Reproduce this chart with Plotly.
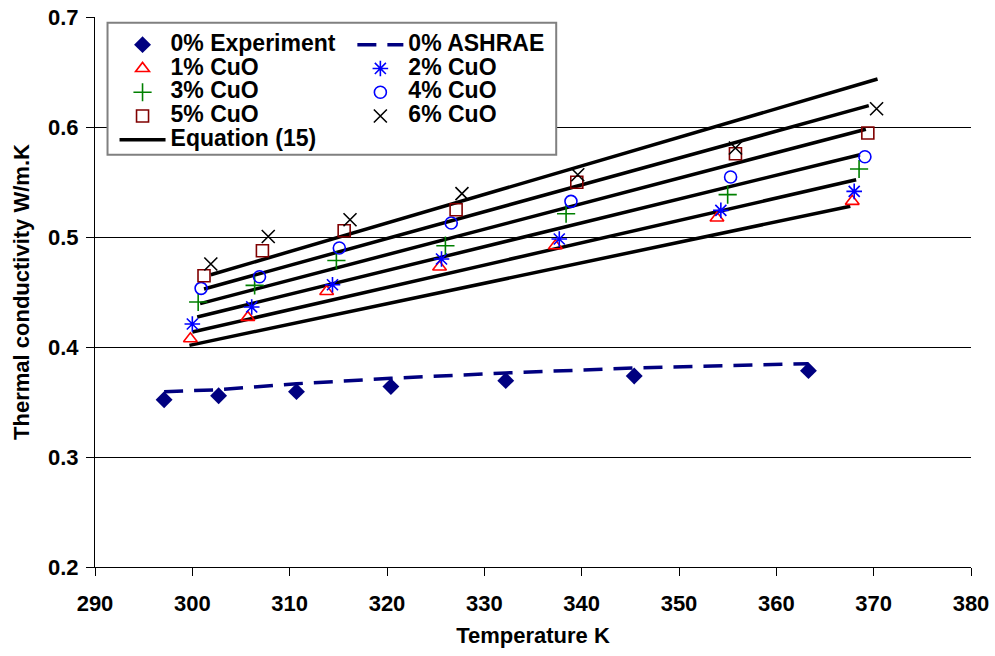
import plotly.graph_objects as go

# ---------------- data ----------------
T0 = [297.1, 302.7, 310.7, 320.4, 332.2, 345.4, 363.3]
k0_exp = [0.352, 0.3557, 0.3594, 0.364, 0.3694, 0.3737, 0.3785]
k0_ashrae = [0.3594, 0.3612, 0.3666, 0.3715, 0.3764, 0.3809, 0.3848]

T1 = [299.8, 305.7, 313.8, 325.4, 337.3, 353.9, 367.8]
k1 = [0.4075, 0.4269, 0.4505, 0.4727, 0.4921, 0.5173, 0.5324]
T2 = [300.0, 306.1, 314.4, 325.6, 337.7, 354.3, 368.0]
k2 = [0.4209, 0.4364, 0.4566, 0.480, 0.4982, 0.5242, 0.5415]
T3 = [300.6, 306.4, 314.8, 326.0, 338.4, 355.0, 368.5]
k3 = [0.4409, 0.456, 0.4787, 0.4921, 0.5212, 0.5385, 0.5618]
T4 = [300.9, 306.9, 315.1, 326.6, 338.9, 355.3, 369.1]
k4 = [0.4533, 0.4639, 0.490, 0.5127, 0.5324, 0.5545, 0.573]
T5 = [301.2, 307.2, 315.6, 327.1, 339.5, 355.8, 369.4]
k5 = [0.4648, 0.4875, 0.5057, 0.5248, 0.5498, 0.5757, 0.5945]
T6 = [301.9, 307.8, 316.2, 327.7, 339.6, 355.8, 370.3]
k6 = [0.4755, 0.5005, 0.5157, 0.5394, 0.5566, 0.5809, 0.6166]

# Equation (15) lines, one per concentration (start / end)
eq_T_start = [299.7, 300.0, 300.5, 300.8, 301.2, 301.9]
eq_T_end = [367.6, 368.2, 368.6, 369.2, 369.5, 370.4]
eq_k_start = [0.4015, 0.4136, 0.4273, 0.4394, 0.4527, 0.4657]
eq_k_end = [0.528, 0.552, 0.5748, 0.598, 0.6194, 0.6436]

x_ticks = [290, 300, 310, 320, 330, 340, 350, 360, 370, 380]
y_ticks = [0.2, 0.3, 0.4, 0.5, 0.6, 0.7]
y_grid = [0.3, 0.4, 0.5, 0.6]

FONT = "Liberation Sans, Arial, sans-serif"


def lbl(s):
    return '<span style="font-size:23px">' + s + '</span>'


fig = go.Figure()

# equation lines (one trace with gaps)
ex, ey = [], []
for a, b, c, d in zip(eq_T_start, eq_T_end, eq_k_start, eq_k_end):
    ex += [a, b, None]
    ey += [c, d, None]

fig.add_trace(go.Scatter(x=ex, y=ey, mode="lines", name=lbl("Equation (15)"),
                         line=dict(color="black", width=3.5), legend="legend",
                         legendrank=5))

fig.add_trace(go.Scatter(x=T0, y=k0_exp, mode="markers", name=lbl("0% Experiment"),
                         marker=dict(symbol="diamond", size=13, color="#000080"),
                         legend="legend", legendrank=1))
fig.add_trace(go.Scatter(x=T0, y=k0_ashrae, mode="lines", name=lbl("0% ASHRAE"),
                         line=dict(color="#000080", width=3.5, dash="19px,11px"),
                         legend="legend2", legendrank=1))

series = [
    ("1% CuO", T1, k1, "triangle-up-open", "#FF0000", "legend", 2, 12),
    ("2% CuO", T2, k2, "asterisk-open", "#0000FF", "legend2", 2, 13),
    ("3% CuO", T3, k3, "cross-thin-open", "#008000", "legend", 3, 13),
    ("4% CuO", T4, k4, "circle-open", "#0000FF", "legend2", 3, 12),
    ("5% CuO", T5, k5, "square-open", "#800000", "legend", 4, 12),
    ("6% CuO", T6, k6, "x-thin-open", "#000000", "legend2", 4, 13),
]
for name, xs, ys, sym, col, lg, rank, sz in series:
    fig.add_trace(go.Scatter(x=xs, y=ys, mode="markers", name=lbl(name),
                             marker=dict(symbol=sym, size=sz, color=col,
                                         line=dict(color=col, width=1.6)),
                             legend=lg, legendrank=rank))

# empty helper trace so the grid-only overlay axis is drawn
fig.add_trace(go.Scatter(x=[None], y=[None], yaxis="y2", showlegend=False,
                         hoverinfo="skip", mode="markers"))

# legend frame
fig.add_shape(type="rect", xref="paper", yref="paper",
              x0=0.0143, x1=0.5265, y0=0.7496, y1=0.9896,
              line=dict(color="#808080", width=2), fillcolor="white", layer="above")

legend_common = dict(bgcolor="rgba(0,0,0,0)", borderwidth=0,
                     font=dict(family=FONT, size=16, color="black", weight="bold"),
                     yanchor="top", xanchor="left", traceorder="normal",
                     itemwidth=46, tracegroupgap=0)

fig.update_layout(
    width=995, height=656,
    margin=dict(l=94.5, r=24, t=17, b=88.7, autoexpand=False),
    paper_bgcolor="white", plot_bgcolor="white",
    font=dict(family=FONT, color="black", weight="bold"),
    showlegend=True,
    legend=dict(x=0.0223, y=0.9805, **legend_common),
    legend2=dict(x=0.2938, y=0.9805, **legend_common),
    xaxis=dict(range=[290, 380], tickvals=x_ticks, ticktext=[str(v) for v in x_ticks],
               showgrid=False, zeroline=False, showline=True, linecolor="black",
               linewidth=1.2, ticks="outside", ticklen=8, tickcolor="black",
               ticklabelstandoff=8,
               tickfont=dict(family=FONT, size=22, weight="bold"),
               title=dict(text="Temperature K", font=dict(family=FONT, size=22, weight="bold"),
                          standoff=13)),
    yaxis=dict(range=[0.2, 0.7], tickvals=y_ticks, ticktext=["0.2", "0.3", "0.4", "0.5", "0.6", "0.7"],
               showgrid=False, zeroline=False, showline=True, linecolor="black",
               linewidth=1.2, ticks="outside", ticklen=8, tickcolor="black",
               ticklabelstandoff=3,
               tickfont=dict(family=FONT, size=22, weight="bold"),
               title=dict(text="Thermal conductivity W/m.K",
                          font=dict(family=FONT, size=22, weight="bold"), standoff=12)),
    yaxis2=dict(range=[0.2, 0.7], overlaying="y", side="left", tickvals=y_grid,
                showgrid=True, gridcolor="black", gridwidth=1.2, showticklabels=False,
                ticks="", showline=False, zeroline=False),
)

fig.write_html("out.html")
